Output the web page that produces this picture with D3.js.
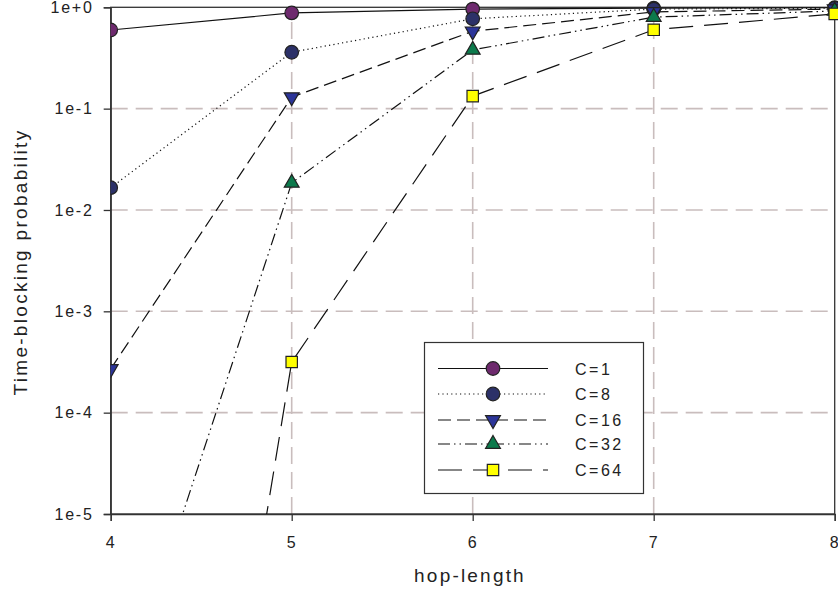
<!DOCTYPE html>
<html>
<head>
<meta charset="utf-8">
<script src="https://cdn.jsdelivr.net/npm/d3@7"></script>
<style>
  body { margin: 0; background: #fff; }
  text { font-family: Arial, "Liberation Sans", sans-serif; fill: #222; }
</style>
</head>
<body>
<div id="chart-area"></div>
<script>
const hops = [4, 5, 6, 7, 8];
const yTicks = [1, 1e-1, 1e-2, 1e-3, 1e-4, 1e-5];
const yTickLabels = ['1e+0', '1e-1', '1e-2', '1e-3', '1e-4', '1e-5'];
const seriesNames = ['C=1', 'C=8', 'C=16', 'C=32', 'C=64'];
const c1 = [0.597, 0.88, 0.96, 0.98, 0.99];
const c8 = [0.0166, 0.36, 0.77, 0.96, 0.98];
const c16 = [2.7e-4, 0.13, 0.58, 0.90, 0.96];
const c32 = [7e-8, 0.0185, 0.38, 0.80, 0.92];
const c64 = [4.4e-15, 3.16e-4, 0.133, 0.60, 0.86];

const seriesValues = [c1, c8, c16, c32, c64];
const colors = ['#6e2a6e', '#2c3168', '#2c3599', '#0c7a4c', '#ffff00'];
const dashes = ['none', '1.2,3.2', '13,6', '12,4,1.5,4,1.5,4', '24,11'];
const shapes = ['circle', 'circle', 'down', 'up', 'square'];

const width = 838, height = 595;
const x0 = 110.7, x1 = 834.7, y0 = 7.3, y1 = 514;

let svg = d3.select('#chart-area').append('svg').attr('width', width).attr('height', height);

let x = d3.scaleLinear().domain([4, 8]).range([x0, x1]);
let y = d3.scaleLog().domain([1e-5, 1]).range([y1, y0]);

svg.append('defs').append('clipPath').attr('id', 'clip')
    .append('rect').attr('x', x0).attr('y', y0 - 10).attr('width', x1 - x0 + 10).attr('height', y1 - y0 + 10);

// grid
let grid = svg.append('g').attr('stroke', '#c9bdbd').attr('stroke-width', 1.6).attr('stroke-dasharray', '17,8');
grid.selectAll('.hg').data(yTicks.slice(1, 5)).enter().append('line')
    .attr('x1', x0).attr('x2', x1)
    .attr('y1', (d) => { return y(d); }).attr('y2', (d) => { return y(d); });
grid.selectAll('.vg').data(hops.slice(1, 4)).enter().append('line')
    .attr('y1', y1).attr('y2', y0)
    .attr('x1', (d) => { return x(d); }).attr('x2', (d) => { return x(d); });

// frame
svg.append('rect').attr('x', x0).attr('y', y0).attr('width', x1 - x0).attr('height', y1 - y0)
    .attr('fill', 'none').attr('stroke', '#333').attr('stroke-width', 1.3);

// axes
let yAxis = d3.axisLeft(y).tickValues(yTicks).tickFormat((d, i) => { return yTickLabels[i]; })
    .tickSize(7).tickPadding(10);
let gy = svg.append('g').attr('transform', `translate(${x0},0)`).call(yAxis);
let xAxis = d3.axisBottom(x).tickValues(hops).tickFormat(d3.format('d')).tickSize(7).tickPadding(16);
let gx = svg.append('g').attr('transform', `translate(0,${y1})`).call(xAxis);
[gx, gy].forEach((g) => {
    g.select('.domain').attr('stroke', '#333').attr('stroke-width', 1.3);
    g.selectAll('.tick line').attr('stroke', '#333').attr('stroke-width', 1.3);
    g.selectAll('.tick text').attr('font-size', 16).attr('fill', '#222')
        .attr('letter-spacing', 1.8)
        .attr('font-family', 'Arial, "Liberation Sans", sans-serif');
});

svg.append('text').attr('x', 470).attr('y', 582).attr('text-anchor', 'middle')
    .attr('font-size', 19).attr('letter-spacing', 2.2).text('hop-length');
svg.append('text').attr('transform', 'translate(27,262) rotate(-90)').attr('text-anchor', 'middle')
    .attr('font-size', 19).attr('letter-spacing', 2.3).text('Time-blocking probability');

function marker(g, i) {
    let p;
    if (shapes[i] === 'down') {
        g.append('path').attr('d', d3.symbol().type(d3.symbolTriangle).size(95)()).attr('transform', 'rotate(180)');
    } else if (shapes[i] === 'up') {
        g.append('path').attr('d', d3.symbol().type(d3.symbolTriangle).size(95)());
    } else if (shapes[i] === 'square') {
        g.append('path').attr('d', d3.symbol().type(d3.symbolSquare).size(130)());
    } else {
        g.append('path').attr('d', d3.symbol().type(d3.symbolCircle).size(145)());
    }
    g.selectAll('path').attr('fill', colors[i]).attr('stroke', '#222').attr('stroke-width', 1.2);
}

let line = d3.line().x((d, i) => { return x(hops[i]); }).y((d) => { return y(d); });
let plot = svg.append('g').attr('clip-path', 'url(#clip)');

seriesValues.forEach((vals, i) => {
    plot.append('path').datum(vals).attr('d', line)
        .attr('fill', 'none').attr('stroke', '#111').attr('stroke-width', 1.2)
        .attr('stroke-dasharray', dashes[i]);
});
seriesValues.forEach((vals, i) => {
    vals.forEach((v, j) => {
        if (v < 1e-5) return;
        let g = plot.append('g').attr('transform', `translate(${x(hops[j])},${y(v)})`);
        marker(g, i);
    });
});

// legend
let leg = svg.append('g');
leg.append('rect').attr('x', 424.5).attr('y', 342.5).attr('width', 219).attr('height', 151)
    .attr('fill', '#fff').attr('stroke', '#333').attr('stroke-width', 1.2);
let legY = [368.5, 394, 420, 444, 470];
seriesNames.forEach((name, i) => {
    leg.append('line').attr('x1', 438).attr('x2', 548).attr('y1', legY[i]).attr('y2', legY[i])
        .attr('stroke', '#111').attr('stroke-width', 1.2).attr('stroke-dasharray', dashes[i]);
    let g = leg.append('g').attr('transform', `translate(493,${legY[i]})`);
    marker(g, i);
    leg.append('text').attr('x', 575).attr('y', legY[i] + 6).attr('font-size', 16)
        .attr('letter-spacing', 2.5).text(name);
});
</script>
</body>
</html>
